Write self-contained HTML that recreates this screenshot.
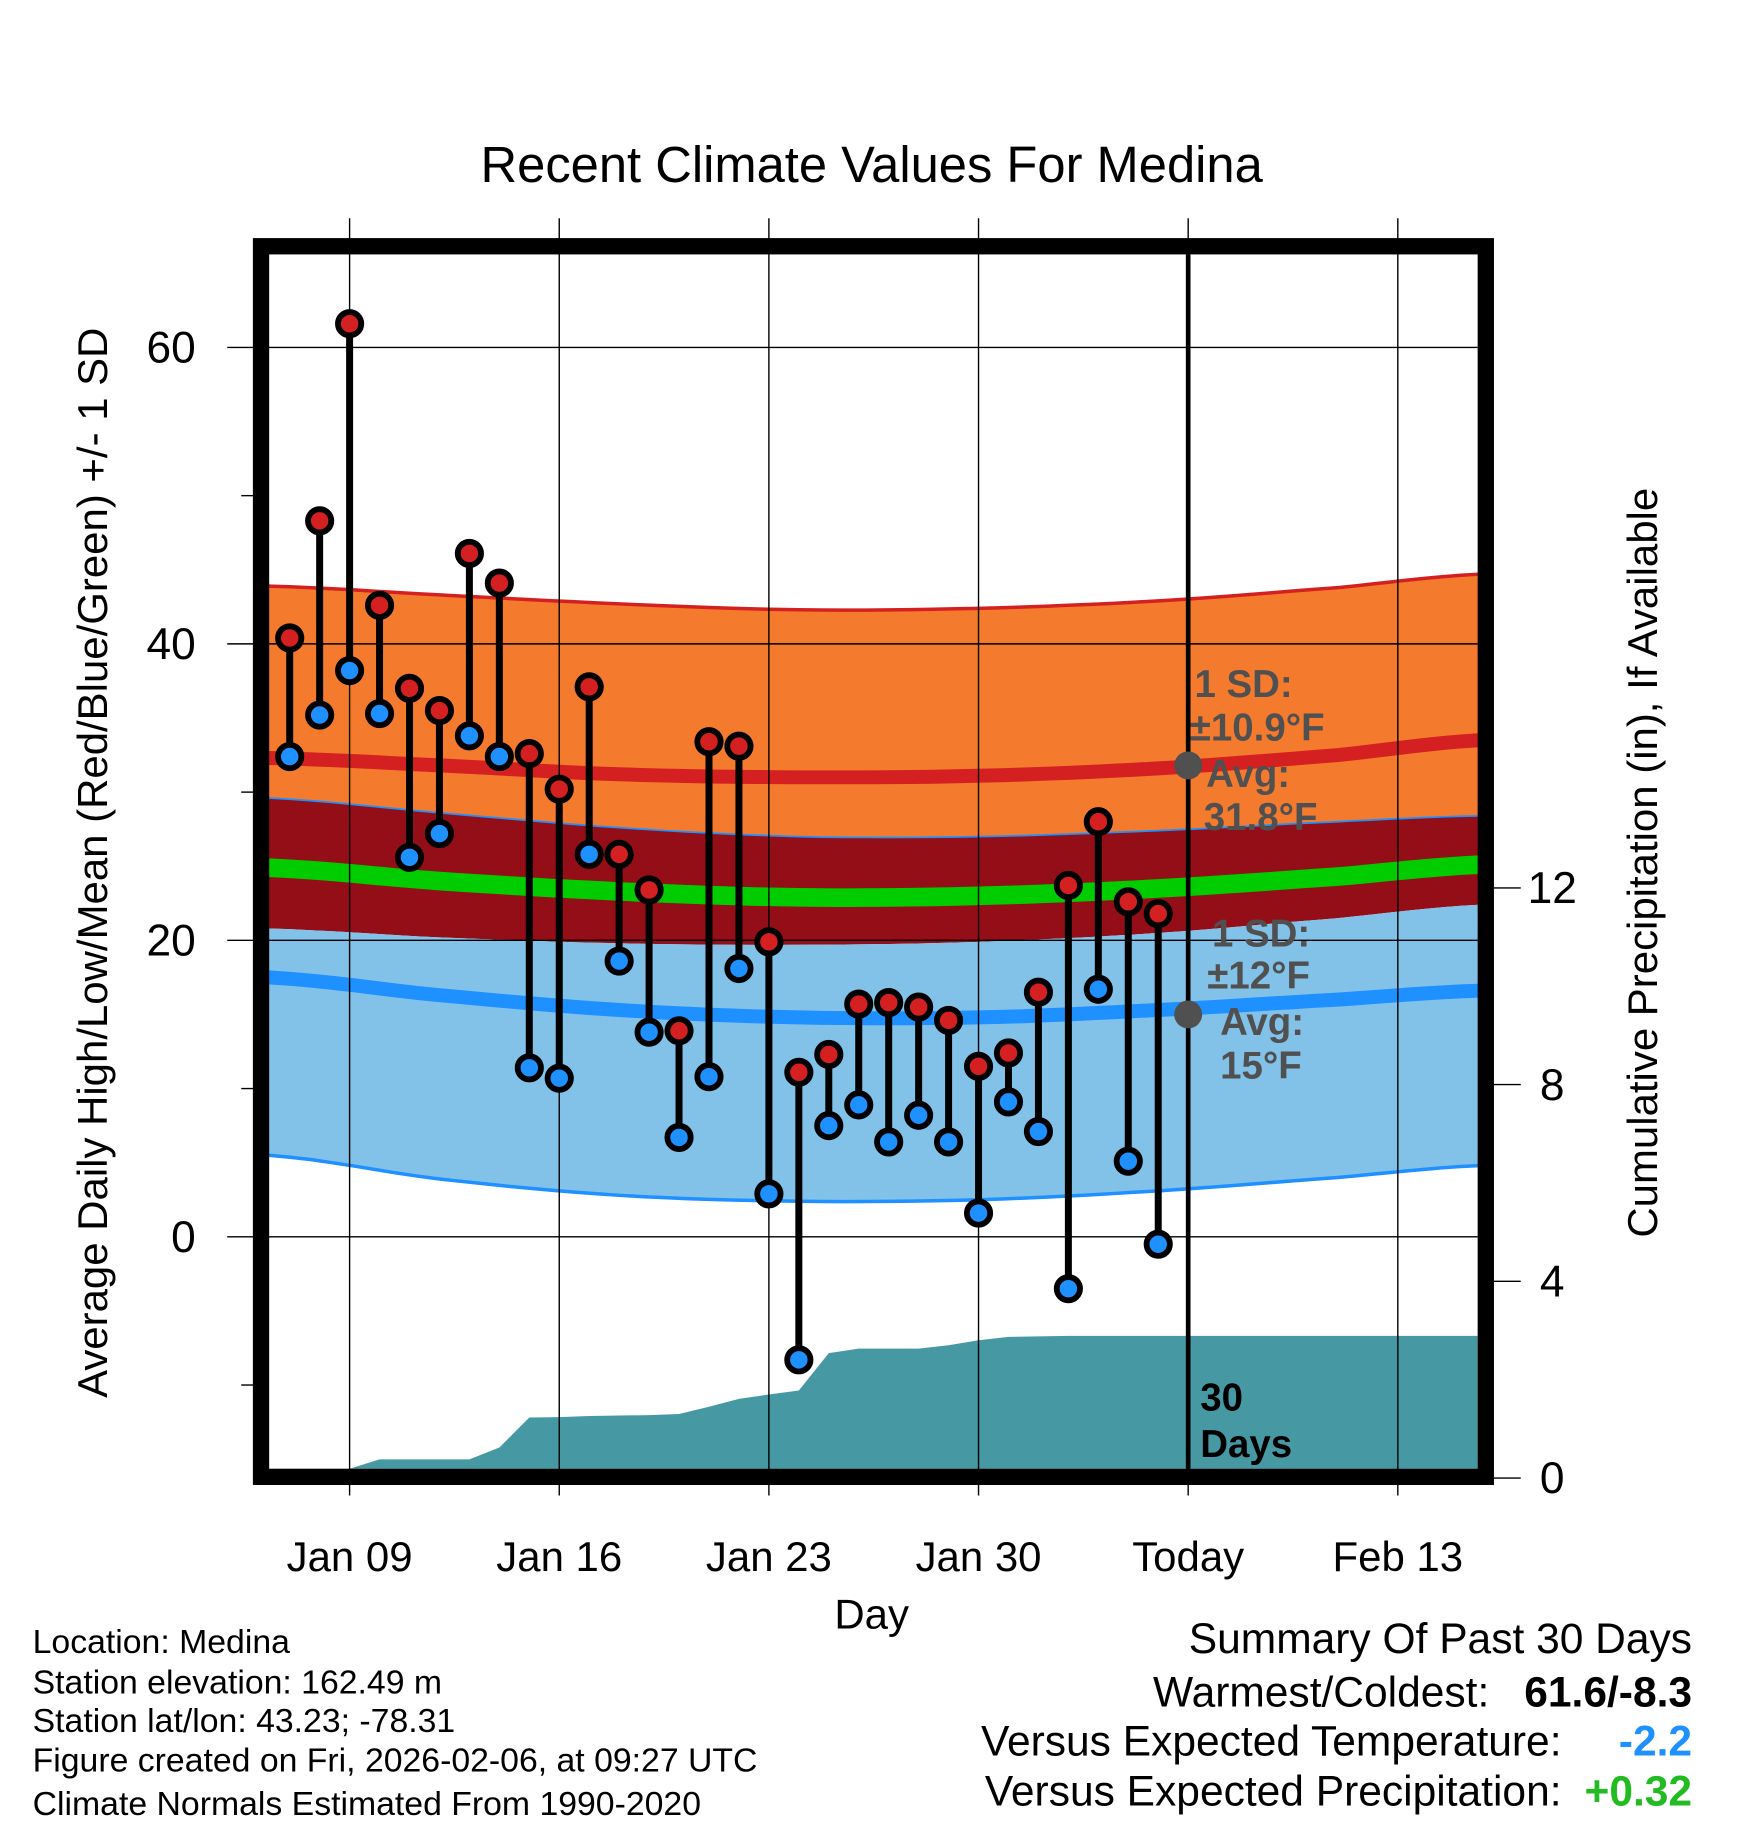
<!DOCTYPE html>
<html><head><meta charset="utf-8">
<style>
html,body{margin:0;padding:0;background:#fff;}
svg{display:block;font-family:"Liberation Sans",Arial,sans-serif;}
</style></head>
<body>
<svg id="chart" width="1748" height="1828" viewBox="0 0 1500 1568" xmlns="http://www.w3.org/2000/svg">
<g id="layers"></g>
</svg>
<script>
// ---- data ----
const dayLabels = ["Jan 09","Jan 16","Jan 23","Jan 30","Today","Feb 13"];
const dayTicks = [0,7,14,21,28,35];
const yTicks = [60,40,20,0];
const yMinor = [50,30,10,-10];
const pTicks = [0,4,8,12];
const obsDays = [-2,-1,0,1,2,3,4,5,6,7,8,9,10,11,12,13,14,15,16,17,18,19,20,21,22,23,24,25,26,27];
const highs = [40.4,48.3,61.6,42.6,37.0,35.5,46.1,44.1,32.6,30.2,37.1,25.8,23.4,13.9,33.4,33.1,19.9,11.1,12.3,15.7,15.8,15.5,14.6,11.5,12.4,16.5,23.7,28.0,22.6,21.8];
const lows = [32.4,35.2,38.2,35.3,25.6,27.2,33.8,32.4,11.4,10.7,25.8,18.6,13.8,6.7,10.8,18.1,2.9,-8.3,7.5,8.9,6.4,8.2,6.4,1.6,9.1,7.1,-3.5,16.7,5.1,-0.5];
const normDays = [-2.7,3,9,15,21,27,33,37.7];
const highMean = [32.3,31.8,31.2,31.0,31.1,31.6,32.5,33.5];
const highTop = [43.9,43.3,42.7,42.3,42.4,42.9,43.8,44.7];
const highBot = [29.6,28.6,27.6,27.0,27.0,27.4,28.0,28.4];
const lowMean = [17.5,16.3,15.3,14.8,14.8,15.3,16.0,16.6];
const lowTop = [20.8,20.2,19.8,19.7,19.9,20.5,21.5,22.4];
const lowBot = [5.5,3.9,2.8,2.4,2.5,3.1,4.0,4.8];
const avgMean = [24.9,24.0,23.3,22.9,23.0,23.5,24.3,25.1];
const precipDays = [0,1,2,3,4,5,6,7,8,9,10,11,12,13,14,15,16,17,18,19,20,21,22,23,24,25,26,27,37.7];
const precipCum = [0.19,0.38,0.38,0.38,0.38,0.62,1.23,1.24,1.26,1.27,1.28,1.30,1.45,1.61,1.70,1.78,2.54,2.63,2.63,2.63,2.70,2.80,2.87,2.88,2.89,2.89,2.89,2.89,2.89];

// ---- axes ----
const X = d => 300 + d*25.7;
const Y = v => 1061 - v*12.72;
const P = v => 1268 - v*42.2;
const L = 231, R = 1268, T = 218, B = 1260;
const NS = "http://www.w3.org/2000/svg";
const g = document.getElementById('layers');
function el(tag, attrs, parent){
  const e = document.createElementNS(NS, tag);
  for (const k in attrs) e.setAttribute(k, attrs[k]);
  (parent||g).appendChild(e);
  return e;
}
function txt(s, attrs){ const e = el('text', attrs); e.textContent = s; return e; }
// smooth sampling via Catmull-Rom-like interpolation between read points
function sample(ys){
  const out = [];
  for (let i=0;i<normDays.length-1;i++){
    const p0 = ys[Math.max(i-1,0)], p1 = ys[i], p2 = ys[i+1], p3 = ys[Math.min(i+2,ys.length-1)];
    for (let s=0;s<8;s++){
      const t = s/8;
      const v = 0.5*((2*p1)+(-p0+p2)*t+(2*p0-5*p1+4*p2-p3)*t*t+(-p0+3*p1-3*p2+p3)*t*t*t);
      out.push([normDays[i]+(normDays[i+1]-normDays[i])*t, v]);
    }
  }
  out.push([normDays[normDays.length-1], ys[ys.length-1]]);
  return out;
}
function line(ys){ return sample(ys).map(p=>X(p[0]).toFixed(1)+','+Y(p[1]).toFixed(1)).join(' '); }
function band(top, bot){
  const a = sample(top).map(p=>X(p[0]).toFixed(1)+','+Y(p[1]).toFixed(1));
  const b = sample(bot).map(p=>X(p[0]).toFixed(1)+','+Y(p[1]).toFixed(1)).reverse();
  return a.concat(b).join(' ');
}
let e;
e = el('polygon',{points:band(highTop,highBot),fill:'#f47a2e'});
 
e = el('polygon',{points:band(highBot,lowTop),fill:'#930e16'});
 
e = el('polygon',{points:band(lowTop,lowBot),fill:'#82c1e8'});
 
el('polyline',{points:line(highTop),fill:'none',stroke:'#d42020','stroke-width':3});
el('polyline',{points:line(highBot),fill:'none',stroke:'#1e90ff','stroke-width':1.5});
el('polyline',{points:line(lowBot),fill:'none',stroke:'#1e90ff','stroke-width':3});
e = el('polyline',{points:line(highMean),fill:'none',stroke:'#d42020','stroke-width':12});
 
e = el('polyline',{points:line(avgMean),fill:'none',stroke:'#00cc00','stroke-width':16});
 
e = el('polyline',{points:line(lowMean),fill:'none',stroke:'#1e90ff','stroke-width':12});
 
{
  const pts = [X(precipDays[0]).toFixed(1)+','+B];
  precipDays.forEach((d,i)=>pts.push(Math.min(X(d),R).toFixed(1)+','+Math.min(P(precipCum[i]),B).toFixed(1)));
  pts.push(R+','+B);
  e = el('polygon',{points:pts.join(' '),fill:'#4699a3'});
   
}
dayTicks.forEach(d=>{ el('line',{x1:X(d),x2:X(d),y1:187,y2:1283,stroke:'#000','stroke-width':1.2}); });
yTicks.forEach(v=>{ el('line',{x1:195,x2:R,y1:Y(v),y2:Y(v),stroke:'#000','stroke-width':1.2}); });
yMinor.forEach(v=>{ el('line',{x1:207,x2:218,y1:Y(v),y2:Y(v),stroke:'#000','stroke-width':1.2}); });
pTicks.forEach(v=>{ el('line',{x1:1282,x2:1305,y1:P(v),y2:P(v),stroke:'#000','stroke-width':1.2}); });
e = el('line',{x1:X(28),x2:X(28),y1:T,y2:B,stroke:'#000','stroke-width':4});
 
obsDays.forEach((d,i)=>{
  e = el('line',{x1:X(d),x2:X(d),y1:Y(highs[i]),y2:Y(lows[i]),stroke:'#000','stroke-width':6});
   
});
obsDays.forEach((d,i)=>{
  e = el('circle',{cx:X(d),cy:Y(highs[i]),r:10,fill:'#d42020',stroke:'#000','stroke-width':5});
   
  e = el('circle',{cx:X(d),cy:Y(lows[i]),r:10,fill:'#1e90ff',stroke:'#000','stroke-width':5});
   
});
el('circle',{cx:X(28),cy:Y(31.8),r:12,fill:'#505050'});
el('circle',{cx:X(28),cy:Y(15),r:12,fill:'#505050'});
const an = {fill:'#505050','font-weight':'bold','font-size':33};
[["1 SD:",1025,598],["±10.9°F",1021,635],["Avg:",1035,675],["31.8°F",1033,712],
 ["1 SD:",1040,812],["±12°F",1036,848],["Avg:",1047,888],["15°F",1047,925]].forEach(a=>{
  e = txt(a[0],Object.assign({x:a[1],y:a[2]},an));
   
});
e = txt("30",{x:1030,y:1210,'font-weight':'bold','font-size':33});
 
e = txt("Days",{x:1030,y:1250,'font-weight':'bold','font-size':33});
 
e = el('rect',{x:224,y:211,width:1051,height:1056,fill:'none',stroke:'#000','stroke-width':14});
 
dayTicks.forEach((d,i)=>{
  e = txt(dayLabels[i],{x:X(d),y:1348,'text-anchor':'middle','font-size':36});
   
});
yTicks.forEach(v=>{
  e = txt(String(v),{x:168,y:Y(v)+13,'text-anchor':'end','font-size':38});
   
});
pTicks.forEach(v=>{
  e = txt(String(v),{x:1332,y:P(v)+13,'text-anchor':'middle','font-size':38});
   
});
</script>
<svg style="position:absolute;left:0;top:0" width="1748" height="1828" viewBox="0 0 1500 1568" xmlns="http://www.w3.org/2000/svg" font-family="Liberation Sans, Arial, sans-serif">
<text x="748" y="156" text-anchor="middle" font-size="43.5">Recent Climate Values For Medina</text>
<text x="748" y="1397" text-anchor="middle" font-size="36">Day</text>
<text transform="translate(92,740) rotate(-90)" text-anchor="middle" font-size="36">Average Daily High/Low/Mean (Red/Blue/Green) +/- 1 SD</text>
<text transform="translate(1422,740) rotate(-90)" text-anchor="middle" font-size="36">Cumulative Precipitation (in), If Available</text>
<g font-size="29">
<text x="28" y="1418">Location: Medina</text>
<text x="28" y="1453">Station elevation: 162.49 m</text>
<text x="28" y="1486">Station lat/lon: 43.23; -78.31</text>
<text x="28" y="1520">Figure created on Fri, 2026-02-06, at 09:27 UTC</text>
<text x="28" y="1557">Climate Normals Estimated From 1990-2020</text>
</g>
<g font-size="36.5" text-anchor="end">
<text x="1452" y="1418">Summary Of Past 30 Days</text>
<text x="1278" y="1464">Warmest/Coldest:</text>
<text x="1452" y="1464" font-weight="bold">61.6/-8.3</text>
<text x="1340" y="1506">Versus Expected Temperature:</text>
<text x="1452" y="1506" font-weight="bold" fill="#1e90ff">-2.2</text>
<text x="1340" y="1549">Versus Expected Precipitation:</text>
<text x="1452" y="1549" font-weight="bold" fill="#22bb22">+0.32</text>
</g>
</svg>
</body></html>
